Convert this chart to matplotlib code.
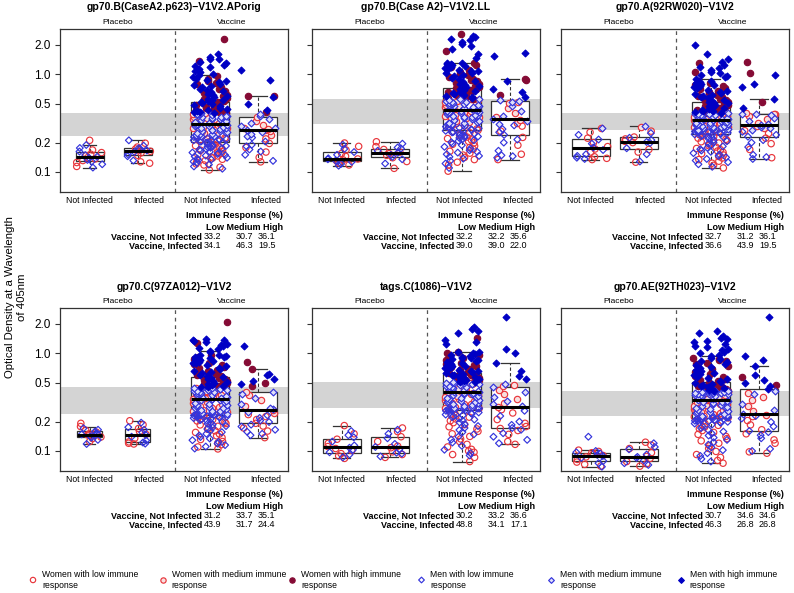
import matplotlib
matplotlib.use('Agg')
import matplotlib.pyplot as plt
import matplotlib.ticker as mticker
import numpy as np

plt.rcParams['font.family'] = ['Liberation Sans', 'DejaVu Sans']

titles = ['gp70.B(CaseA2.p623)\u2212V1V2.APorig', 'gp70.B(Case A2)\u2212V1V2.LL', 'gp70.A(92RW020)\u2212V1V2',
          'gp70.C(97ZA012)\u2212V1V2', 'tags.C(1086)\u2212V1V2', 'gp70.AE(92TH023)\u2212V1V2']
xlabels = ['Not Infected', 'Infected', 'Not Infected', 'Infected']
yticks = [0.1, 0.2, 0.5, 1.0, 2.0]
yticklabels = ['0.1', '0.2', '0.5', '1.0', '2.0']
# gray band = tertile cut points of vaccine recipients (low / medium / high response)
bands = [(0.232, 0.402), (0.31, 0.564), (0.271, 0.402), (0.24, 0.447), (0.274, 0.504), (0.229, 0.413)]
table_rows = ['Vaccine, Not Infected', 'Vaccine, Infected']
resp_ni = [[33.2, 30.7, 36.1], [32.2, 32.2, 35.6], [32.7, 31.2, 36.1],
           [31.2, 33.7, 35.1], [30.2, 33.2, 36.6], [30.7, 34.6, 34.6]]
resp_inf = [[34.1, 46.3, 19.5], [39.0, 39.0, 22.0], [36.6, 43.9, 19.5],
            [43.9, 31.7, 24.4], [48.8, 34.1, 17.1], [46.3, 26.8, 26.8]]
legend_labels = ['Women with low immune\nresponse', 'Women with medium immune\nresponse',
                 'Women with high immune\nresponse', 'Men with low immune\nresponse',
                 'Men with medium immune\nresponse', 'Men with high immune\nresponse']

# optical density x1000; pn/pi = placebo not infected/infected, vn/vi = vaccine; _w women, _m men
p1_pn_w = [114, 125, 131, 136, 140, 147, 152, 158, 168, 211]
p1_pn_m = [111, 120, 128, 133, 139, 143, 149, 162, 176, 189]
p1_pi_w = [123, 127, 148, 157, 163, 167, 172, 180, 197]
p1_pi_m = [131, 145, 152, 160, 166, 170, 175, 186, 211]
p1_vn_w = [105, 112, 118, 121, 126, 131, 135, 139, 142, 146, 151, 155, 159, 163, 167, 172, 176, 181, 186, 190,
           196, 203, 208, 214, 219, 223, 227, 230,
           234, 239, 244, 249, 253, 258, 263, 268, 274, 279, 285, 291, 298, 305, 312, 319, 327, 334, 342, 351,
           359, 368, 378, 388, 398,
           405, 412, 421, 430, 441, 452, 463, 476, 490, 505, 522, 538, 556, 575, 596, 618, 640, 668, 700, 742,
           790, 820, 850, 905, 960, 1380, 2300]
p1_vn_m = [108, 114, 119, 124, 128, 132, 134, 137, 140, 144, 147, 149, 153, 156, 158, 161, 165, 169, 171, 174,
           178, 180, 183, 185, 188, 192, 194, 198, 200, 204, 206, 209, 211, 213, 216, 218, 221, 225, 228, 231,
           233, 236, 241, 243, 247, 251, 255, 257, 261, 265, 270, 272, 277, 281, 283, 288, 293, 296, 301, 303,
           308, 315, 322, 325, 331, 338, 345, 348, 355, 362, 365, 372, 375, 382, 385, 392, 396, 401,
           404, 408, 416, 425, 434, 445, 457, 469, 483, 497, 510, 518, 530, 545, 552, 565, 585, 600, 612, 630,
           655, 672, 690, 715, 735, 760, 780, 805, 830, 860, 880, 896, 940, 985, 1010, 1050, 1090, 1130, 1180,
           1230, 1260, 1300, 1350, 1420, 1450, 1520, 1600]
p1_vi_w = [127, 141, 160, 178, 196, 218, 240, 252, 262, 270, 276, 285, 300, 330, 365, 410, 598, 600]
p1_vi_m = [130, 150, 162, 170, 183, 190, 205, 225, 235, 245, 258, 268, 280, 295, 318, 345, 372, 392,
           430, 500, 590, 880, 1100]

p2_pn_w = [118, 124, 129, 133, 136, 145, 155, 168, 183, 198]
p2_pn_m = [116, 121, 127, 131, 135, 138, 150, 160, 172, 190]
p2_pi_w = [109, 128, 140, 148, 154, 160, 170, 182, 204]
p2_pi_m = [122, 135, 143, 150, 157, 165, 174, 178, 195]
p2_vn_w = [102, 118, 126, 134, 141, 149, 156, 163, 171, 178, 185, 192, 199, 206, 213, 220, 228, 236, 244, 252,
           259, 267, 276, 285, 295, 305,
           312, 318, 325, 332, 339, 346, 353, 360, 368, 377, 386, 395, 404, 414, 424, 434, 444, 455, 466, 478,
           490, 503, 516, 530, 544, 558,
           565, 578, 592, 606, 620, 636, 652, 668, 686, 704, 724, 745, 768, 792, 818, 845, 875, 905, 940, 975,
           1010, 1060, 1120, 1180, 1260, 1320, 1750, 2600]
p2_vn_m = [110, 122, 130, 137, 143, 146, 152, 158, 161, 167, 174, 181, 188, 195, 202, 208, 211, 216, 223, 226,
           231, 234, 239, 242, 247, 250, 254, 257, 261, 264, 270, 273, 280, 283, 288, 291, 298, 301, 304, 308,
           311, 315, 321, 328, 335, 342, 349, 356, 363, 365, 372, 380, 383, 390, 398, 401, 408, 411, 418, 421,
           428, 431, 438, 441, 448, 451, 460, 470, 474, 483, 487, 495, 500, 508, 512, 520, 526, 536, 548, 555,
           562, 570, 585, 598, 613, 628, 644, 660, 677, 695, 714, 734, 756, 780, 805, 830, 860, 890, 920, 955,
           990, 1020, 1040, 1070, 1090, 1110, 1140, 1160, 1190, 1220, 1240, 1270, 1290, 1300, 1310, 1480, 1620,
           1800, 1950, 2050, 2150, 2250, 2320, 2400, 2450]
p2_vi_w = [134, 152, 188, 226, 262, 295, 318, 340, 362, 398, 450, 505, 520, 620, 880, 885]
p2_vi_m = [140, 145, 148, 165, 200, 215, 240, 255, 275, 300, 312, 330, 345, 372, 420, 470, 515, 535, 550,
           580, 660, 700, 860, 1530, 1650]

p3_pn_w = [134, 138, 143, 160, 172, 182, 200, 222, 255, 284]
p3_pn_m = [136, 140, 146, 152, 168, 178, 195, 215, 240, 280]
p3_pi_w = [126, 160, 170, 200, 206, 218, 228, 262, 290]
p3_pi_m = [128, 152, 175, 198, 203, 212, 224, 250, 296]
p3_vn_w = [110, 117, 123, 129, 134, 139, 144, 149, 154, 159, 164, 169, 174, 180, 186, 192, 198, 204, 210, 216,
           222, 229, 235, 241, 248, 255, 262, 269,
           272, 276, 281, 286, 291, 296, 301, 306, 311, 317, 323, 329, 335, 341, 347, 353, 359, 365, 371, 377,
           383, 389, 395, 401,
           405, 413, 422, 431, 441, 452, 463, 475, 488, 502, 516, 531, 547, 563, 580, 598, 617, 637, 658, 680,
           703, 727, 752, 780, 820, 850, 1050, 1300]
p3_vn_m = [113, 120, 126, 131, 136, 141, 146, 151, 156, 161, 166, 171, 177, 183, 189, 195, 201, 207, 213, 219,
           225, 227, 231, 233, 237, 239, 243, 245, 250, 252, 256, 258, 260, 263, 265, 266, 267, 268, 270,
           271, 274, 278, 280, 283, 285, 288, 290, 293, 295, 298, 300, 303, 305, 308, 310, 314, 318, 322, 326,
           330, 334, 338, 344, 346, 350, 352, 356, 360, 364, 368, 372, 376, 380, 384, 388, 392, 395, 398, 401,
           404, 410, 418, 426, 435, 444, 455, 466, 478, 490, 503, 512, 525, 538, 552, 566, 581, 596, 612, 628,
           645, 662, 680, 698, 716, 735, 754, 774, 795, 815, 835, 855, 900, 930, 960, 990, 1020, 1060, 1100,
           1150, 1200, 1260, 1350, 1450, 1600, 2010]
p3_vi_w = [140, 170, 195, 222, 248, 265, 280, 296, 320, 350, 375, 388, 394, 398, 520, 1030, 1350]
p3_vi_m = [136, 142, 150, 180, 200, 212, 230, 240, 258, 272, 285, 292, 300, 312, 335, 360, 382, 392, 396,
           450, 560, 740, 800, 990]

p4_pn_w = [125, 134, 139, 143, 146, 150, 156, 163, 178, 192]
p4_pn_m = [118, 130, 137, 141, 145, 148, 152, 158, 165, 171]
p4_pi_w = [118, 120, 124, 135, 148, 158, 170, 186, 204]
p4_pi_m = [119, 122, 128, 140, 146, 155, 165, 175, 195]
p4_vn_w = [105, 110, 116, 120, 125, 131, 137, 143, 149, 155, 161, 167, 173, 179, 185, 191, 197, 203, 209, 215,
           221, 227, 231, 234, 236, 239,
           242, 247, 252, 257, 262, 267, 272, 278, 284, 290, 296, 302, 309, 316, 323, 331, 339, 347, 356, 365,
           374, 384, 394, 405, 416, 428, 442,
           452, 460, 470, 480, 492, 505, 518, 532, 547, 563, 580, 598, 617, 637, 658, 680, 703, 727, 752, 778,
           805, 835, 870, 910, 950, 1270, 2100]
p4_vn_m = [106, 111, 115, 119, 124, 129, 134, 139, 144, 150, 156, 162, 168, 174, 180, 186, 190, 195, 199, 203,
           207, 211, 214, 217, 220, 223, 225, 227, 229, 231, 232, 233, 234, 235, 236, 237, 238, 239,
           241, 244, 249, 251, 255, 259, 264, 269, 274, 276, 281, 287, 293, 299, 305, 312, 319, 326, 329, 334,
           337, 343, 350, 353, 360, 368, 370, 378, 381, 388, 391, 398, 401, 409, 412, 420, 424, 431, 435, 438,
           444, 446,
           449, 455, 465, 475, 486, 498, 511, 525, 540, 555, 570, 588, 605, 625, 645, 665, 690, 715, 740, 765,
           790, 805, 820, 835, 850, 865, 880, 895, 910, 925, 940, 955, 970, 1020, 1060, 1100, 1140, 1180, 1220,
           1260, 1300, 1330, 1360, 1380, 1400]
p4_vi_w = [137, 160, 172, 180, 192, 210, 225, 236, 245, 262, 290, 330, 370, 405, 460, 500, 685, 820]
p4_vi_m = [145, 150, 158, 165, 178, 186, 198, 205, 218, 232, 250, 268, 275, 300, 345, 380, 400,
           480, 520, 550, 600, 620, 1180]

p5_pn_w = [84, 89, 94, 101, 106, 111, 120, 132, 150, 182]
p5_pn_m = [86, 92, 97, 103, 108, 114, 125, 138, 145, 160]
p5_pi_w = [86, 92, 98, 108, 112, 125, 140, 158, 172]
p5_pi_m = [88, 94, 96, 104, 110, 118, 135, 150, 165]
p5_vn_w = [78, 86, 92, 97, 100, 104, 110, 117, 125, 133, 141, 150, 159, 168, 177, 186, 195, 204, 213, 222,
           231, 240, 250, 259, 266, 272,
           276, 282, 288, 294, 300, 306, 312, 318, 325, 332, 339, 346, 353, 361, 369, 377, 385, 393, 401, 410,
           419, 429, 450, 470, 488, 502,
           510, 520, 532, 545, 558, 572, 586, 600, 615, 630, 646, 662, 680, 698, 717, 737, 758, 780, 802, 825,
           850, 875, 900, 930, 960, 1000, 1030, 1450]
p5_vn_m = [90, 95, 103, 113, 122, 131, 140, 148, 156, 164, 172, 180, 188, 196, 204, 210, 216, 222, 227, 232,
           236, 240, 244, 248, 252, 255, 258, 260, 262, 264, 266, 268, 269, 270, 272, 273,
           275, 279, 285, 290, 296, 302, 308, 314, 320, 323, 328, 335, 342, 349, 352, 357, 365, 373, 381, 386,
           389, 395, 398, 405, 414, 418, 424, 433, 438, 443, 448, 455, 460, 465, 475, 480, 484, 490, 494, 497,
           500, 503,
           506, 512, 518, 525, 533, 541, 549, 557, 566, 575, 585, 595, 606, 617, 628, 640, 652, 665, 678, 692,
           706, 720, 735, 750, 766, 782, 798, 815, 832, 850, 868, 886, 905, 925, 945, 965, 985, 1005, 1025,
           1040, 1260, 1320, 1380, 1600, 1700, 1760, 1860]
p5_vi_w = [117, 125, 148, 162, 170, 178, 192, 210, 245, 265, 285, 310, 340, 380, 420, 460, 470]
p5_vi_m = [120, 130, 140, 152, 165, 172, 185, 200, 228, 258, 290, 300, 325, 360, 400, 450, 490,
           540, 580, 660, 796, 1000, 1100, 2340]

p6_pn_w = [70, 73, 77, 82, 87, 90, 93, 96, 99, 102]
p6_pn_m = [69, 75, 79, 85, 89, 91, 94, 97, 100, 140]
p6_pi_w = [70, 74, 78, 84, 88, 96, 106, 115, 123]
p6_pi_m = [72, 75, 80, 85, 87, 92, 104, 110, 120]
p6_vn_w = [75, 80, 86, 92, 99, 106, 113, 120, 127, 134, 141, 148, 155, 162, 169, 176, 183, 190, 197, 203,
           208, 213, 218, 223, 227,
           231, 236, 241, 246, 251, 256, 261, 266, 271, 276, 282, 288, 294, 300, 306, 312, 318, 325, 332, 339,
           346, 353, 360, 368, 376, 388, 400, 411,
           416, 424, 433, 442, 452, 463, 475, 488, 502, 517, 533, 550, 568, 587, 607, 628, 650, 673, 697, 722,
           748, 775, 803, 832, 862, 880, 895]
p6_vn_m = [78, 83, 89, 95, 102, 109, 116, 123, 130, 137, 144, 151, 158, 165, 172, 179, 186, 191, 194, 197,
           199, 201, 203, 204, 206, 208, 210, 212, 214, 216, 218, 220, 221, 222, 224, 225, 226, 228,
           230, 233, 238, 243, 248, 253, 258, 263, 268, 273, 279, 285, 291, 297, 303, 309, 315, 321, 324, 328,
           335, 342, 349, 356, 363, 366, 371, 374, 379, 382, 386, 390, 393, 395, 397, 399, 402, 404, 406, 408,
           410, 411, 412,
           415, 420, 428, 437, 447, 458, 470, 482, 495, 509, 524, 540, 557, 575, 594, 614, 635, 657, 680, 704,
           729, 755, 782, 810, 839, 869, 885, 940, 970, 1000, 1040, 1080, 1120, 1160, 1200, 1250, 1300, 1350,
           1400, 1450, 1520, 1600, 1680]
p6_vi_w = [95, 98, 120, 130, 150, 165, 185, 205, 225, 232, 255, 290, 330, 360, 395, 476, 570]
p6_vi_m = [100, 105, 135, 145, 156, 160, 178, 198, 215, 228, 240, 265, 300, 380, 410,
           430, 465, 500, 530, 600, 750, 854, 930, 2360]

panels = [
    [(p1_pn_w, p1_pn_m), (p1_pi_w, p1_pi_m), (p1_vn_w, p1_vn_m), (p1_vi_w, p1_vi_m)],
    [(p2_pn_w, p2_pn_m), (p2_pi_w, p2_pi_m), (p2_vn_w, p2_vn_m), (p2_vi_w, p2_vi_m)],
    [(p3_pn_w, p3_pn_m), (p3_pi_w, p3_pi_m), (p3_vn_w, p3_vn_m), (p3_vi_w, p3_vi_m)],
    [(p4_pn_w, p4_pn_m), (p4_pi_w, p4_pi_m), (p4_vn_w, p4_vn_m), (p4_vi_w, p4_vi_m)],
    [(p5_pn_w, p5_pn_m), (p5_pi_w, p5_pi_m), (p5_vn_w, p5_vn_m), (p5_vi_w, p5_vi_m)],
    [(p6_pn_w, p6_pn_m), (p6_pi_w, p6_pi_m), (p6_vn_w, p6_vn_m), (p6_vi_w, p6_vi_m)],
]

# marker styles
red, maroon, blue, dblue = '#e8363c', '#850b35', '#3434dc', '#0000c4'
styles = {
    ('w', 0): dict(marker='o', s=21, facecolors='none', edgecolors=red),
    ('w', 1): dict(marker='o', s=21, facecolors='#f8e0e0', edgecolors=red),
    ('w', 2): dict(marker='o', s=21, facecolors=maroon, edgecolors=maroon),
    ('m', 0): dict(marker='D', s=12, facecolors='none', edgecolors=blue),
    ('m', 1): dict(marker='D', s=12, facecolors='#e0e0f8', edgecolors=blue),
    ('m', 2): dict(marker='D', s=12, facecolors=dblue, edgecolors=dblue),
}
legend_keys = [('w', 0), ('w', 1), ('w', 2), ('m', 0), ('m', 1), ('m', 2)]

W, H = 794.0, 593.0
fig = plt.figure(figsize=(7.94, 5.93), dpi=100)


def P(x, y):
    return x / W, 1 - y / H


col_x = [60, 312, 561]
row_y = [29, 308]
aw, ah = 228, 163
box_pos = [1.0, 1.82, 3.05, 3.87]
plc_width = [0.48, 0.65, 0.65, 0.43, 0.65, 0.65]

for k in range(6):
    r, c = divmod(k, 3)
    x0, y0 = col_x[c], row_y[r]
    ax = fig.add_axes([x0 / W, 1 - (y0 + ah) / H, aw / W, ah / H])
    ax.set_yscale('log')
    ax.set_ylim(0.0624, 2.91)
    ax.set_xlim(0.494, 4.38)
    lo, hi = bands[k]
    ax.axhspan(lo, hi, color='#d4d4d4', lw=0, zorder=0)
    ax.axvline(2.45, color='#555555', lw=0.9, ls=(0, (3, 3)), zorder=1)

    groups = panels[k]
    widths = [plc_width[k], plc_width[k], 0.65, 0.65]
    allv = [np.array(w + m) / 1000.0 for w, m in groups]
    ax.boxplot(allv, positions=box_pos, widths=widths, patch_artist=True, showfliers=False, whis=1.5,
               capwidths=[w * 0.45 for w in widths],
               boxprops=dict(facecolor='white', edgecolor='#333333', linewidth=0.9, zorder=2),
               medianprops=dict(color='black', linewidth=2.2, solid_capstyle='butt', zorder=4),
               whiskerprops=dict(color='#333333', linewidth=0.8, linestyle=(0, (3, 2)), zorder=2),
               capprops=dict(color='#333333', linewidth=0.9, zorder=2))

    for gi, (w, m) in enumerate(groups):
        jw = widths[gi] * 0.92
        for sex, vals, start in (('w', w, 0), ('m', m, len(w))):
            v = np.array(vals) / 1000.0
            idx = np.arange(len(v)) + start + 7 * gi + 3 * k
            # quadratic Weyl sequence for horizontal jitter
            xs = box_pos[gi] + ((idx * idx * 0.6180339887 + idx * 0.3819660113) % 1.0 - 0.5) * jw
            lev = np.where(v < lo, 0, np.where(v <= hi, 1, 2))
            for L in range(3):
                sel = lev == L
                if sel.any():
                    ax.scatter(xs[sel], v[sel], linewidths=0.85, zorder=3, **styles[(sex, L)])

    ax.set_yticks(yticks)
    ax.set_yticklabels(yticklabels if c == 0 else [])
    ax.yaxis.set_minor_locator(mticker.NullLocator())
    ax.tick_params(axis='y', length=3.6, width=0.8, pad=3, labelsize=8.5, color='#333333')
    ax.set_xticks([1, 2, 3, 4])
    ax.set_xticklabels(xlabels, fontsize=6.2)
    ax.tick_params(axis='x', length=0, pad=3)
    for sp in ax.spines.values():
        sp.set_linewidth(0.9)
        sp.set_color('#333333')

    ax.annotate('Placebo', xy=(1.47, 1), xycoords=('data', 'axes fraction'), xytext=(0, 4.8),
                textcoords='offset points', ha='center', va='center', fontsize=6)
    ax.annotate('Vaccine', xy=(3.415, 1), xycoords=('data', 'axes fraction'), xytext=(0, 4.8),
                textcoords='offset points', ha='center', va='center', fontsize=6)
    fig.text(*P(x0 + aw / 2, y0 - 21.5), titles[k], ha='center', va='center', fontsize=7.5,
             fontweight='bold')

    yb = y0 + ah
    fs = 6.5
    fig.text(*P(x0 + 174, yb + 23.7), 'Immune Response (%)', ha='center', va='center', fontsize=fs,
             fontweight='bold')
    fig.text(*P(x0 + 146, yb + 35.3), 'Low Medium High', ha='left', va='center', fontsize=fs,
             fontweight='bold')
    for ri, (lab, vals) in enumerate(zip(table_rows, [resp_ni[k], resp_inf[k]])):
        yy = yb + 44.7 + ri * 9
        fig.text(*P(x0 + 142, yy), lab, ha='right', va='center', fontsize=fs, fontweight='bold')
        fig.text(*P(x0 + 144, yy), '%.1f' % vals[0], ha='left', va='center', fontsize=fs)
        fig.text(*P(x0 + 193, yy), '%.1f' % vals[1], ha='right', va='center', fontsize=fs)
        fig.text(*P(x0 + 198, yy), '%.1f' % vals[2], ha='left', va='center', fontsize=fs)

fig.text(*P(16, 297), 'Optical Density at a Wavelength\nof 405nm', rotation=90, ha='center',
         va='center', fontsize=8.2, multialignment='center')

# legend row along the bottom
lax = fig.add_axes([0, 0, 1, 1])
lax.set_xlim(0, W)
lax.set_ylim(H, 0)
lax.axis('off')
lax.patch.set_visible(False)
for i, (key, lab) in enumerate(zip(legend_keys, legend_labels)):
    mx = 33 + 129.5 * i
    st = dict(styles[key])
    st['s'] = st['s'] * 0.7
    lax.scatter([mx], [580], linewidths=0.85, **st)
    lax.text(mx + 9, 580, lab, ha='left', va='center', fontsize=6.2, linespacing=1.2)

fig.savefig('out.png', dpi=100)
